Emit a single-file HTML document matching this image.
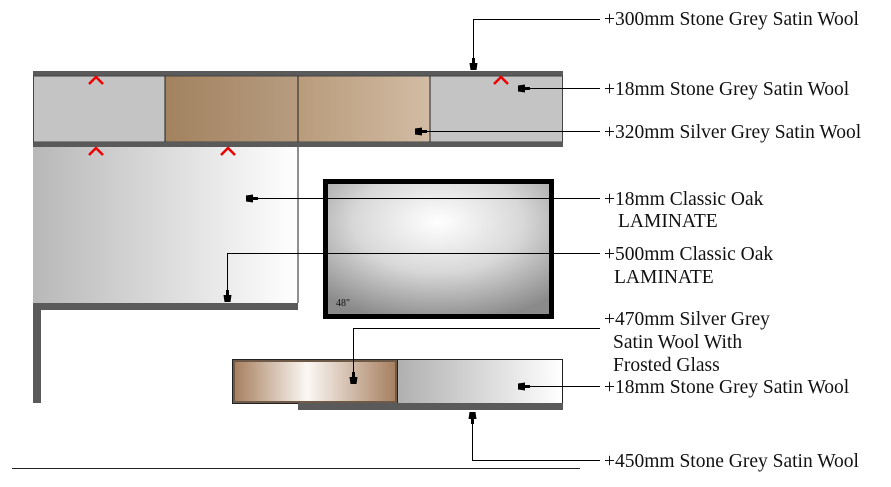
<!DOCTYPE html>
<html><head><meta charset="utf-8"><style>
html,body{margin:0;padding:0;background:#fff;}
svg{display:block}
text{font-family:"Liberation Serif",serif;font-size:19.5px;fill:#111}
</style></head><body>
<svg width="891" height="487" viewBox="0 0 891 487" xmlns="http://www.w3.org/2000/svg">
<defs>
<linearGradient id="b1" x1="0" x2="1"><stop offset="0" stop-color="#a2825f"/><stop offset="1" stop-color="#b79c80"/></linearGradient>
<linearGradient id="b2" x1="0" x2="1"><stop offset="0" stop-color="#b89b7b"/><stop offset="1" stop-color="#d2bca4"/></linearGradient>
<linearGradient id="g1" x1="0" x2="1"><stop offset="0" stop-color="#b8b8b8"/><stop offset="1" stop-color="#ffffff"/></linearGradient>
<linearGradient id="g2" x1="0" x2="1"><stop offset="0" stop-color="#b0b0b0"/><stop offset="1" stop-color="#ffffff"/></linearGradient>
<linearGradient id="dr" x1="0" x2="1"><stop offset="0" stop-color="#a88060"/><stop offset="0.45" stop-color="#fbf8f4"/><stop offset="1" stop-color="#a88060"/></linearGradient>
<radialGradient id="tv" cx="0.5" cy="0.3" r="0.75"><stop offset="0" stop-color="#ffffff"/><stop offset="0.5" stop-color="#d8d8d8"/><stop offset="1" stop-color="#8a8a8a"/></radialGradient>
<marker id="ar" viewBox="0 0 12 8" refX="12" refY="4" markerWidth="13" markerHeight="8" orient="auto" markerUnits="userSpaceOnUse"><path d="M0,2.5 L5,2.5 L5,0 L12,1 L12,7 L5,8 L5,5.5 L0,5.5 Z" fill="#000"/></marker>
</defs>
<rect x="33" y="71" width="530" height="5" fill="#5a5a5a"/>
<rect x="33" y="76" width="132" height="66" fill="#c4c4c4"/>
<rect x="165" y="76" width="133" height="66" fill="url(#b1)"/>
<rect x="298" y="76" width="132" height="66" fill="url(#b2)"/>
<rect x="430" y="76" width="133" height="66" fill="#c4c4c4"/>
<rect x="33.5" y="76" width="529" height="66" fill="none" stroke="#444" stroke-width="1"/>
<line x1="165" y1="76" x2="165" y2="142" stroke="#222"/>
<line x1="298" y1="76" x2="298" y2="142" stroke="#222"/>
<line x1="430" y1="76" x2="430" y2="142" stroke="#222"/>
<rect x="33" y="142" width="530" height="5" fill="#5a5a5a"/>
<rect x="33" y="147" width="265" height="156" fill="url(#g1)"/>
<line x1="298" y1="147" x2="298" y2="303" stroke="#222"/>
<rect x="33" y="303" width="265" height="7" fill="#5a5a5a"/>
<rect x="33" y="310" width="8" height="93" fill="#5a5a5a"/>
<g stroke="#e00" stroke-width="2.5" fill="none">
<path d="M89,84 L96,77 L103,84"/><path d="M494,84 L501,77 L508,84"/>
<path d="M89,155 L96,148 L103,155"/><path d="M221,155 L228,148 L235,155"/>
</g>
<rect x="325.5" y="181.5" width="226" height="135" fill="url(#tv)" stroke="#000" stroke-width="5"/>
<text x="336" y="306" style="font-size:10px;font-family:'Liberation Serif',serif">48"</text>
<rect x="232.5" y="359.5" width="330" height="44" fill="#fff" stroke="#222"/>
<rect x="398" y="360" width="164" height="43" fill="url(#g2)"/>
<rect x="232.5" y="359.5" width="165" height="44" fill="#6d5a48" stroke="#222"/>
<rect x="235" y="362" width="160" height="39" fill="url(#dr)"/>
<rect x="298" y="403" width="265" height="7" fill="#5a5a5a"/>
<line x1="12" y1="468.5" x2="580" y2="468.5" stroke="#222"/>
<g stroke="#000" stroke-width="1" fill="none">
<polyline points="600,19.5 473.5,19.5 473.5,70" marker-end="url(#ar)"/>
<line x1="600" y1="88.5" x2="518" y2="88.5" marker-end="url(#ar)"/>
<line x1="600" y1="131.5" x2="415" y2="131.5" marker-end="url(#ar)"/>
<line x1="600" y1="198.5" x2="246" y2="198.5" marker-end="url(#ar)"/>
<polyline points="600,253.5 227.5,253.5 227.5,302" marker-end="url(#ar)"/>
<polyline points="600,328.5 353.5,328.5 353.5,384" marker-end="url(#ar)"/>
<line x1="600" y1="386.5" x2="518" y2="386.5" marker-end="url(#ar)"/>
<polyline points="600,460.5 472.5,460.5 472.5,412" marker-end="url(#ar)"/>
</g>
<text x="604" y="25">+300mm Stone Grey Satin Wool</text>
<text x="604" y="95">+18mm Stone Grey Satin Wool</text>
<text x="604" y="138">+320mm Silver Grey Satin Wool</text>
<text x="604" y="205">+18mm Classic Oak</text>
<text x="618" y="227">LAMINATE</text>
<text x="604" y="260">+500mm Classic Oak</text>
<text x="614" y="283">LAMINATE</text>
<text x="604" y="325">+470mm Silver Grey</text>
<text x="613" y="348">Satin Wool With</text>
<text x="613" y="371">Frosted Glass</text>
<text x="604" y="393">+18mm Stone Grey Satin Wool</text>
<text x="604" y="467">+450mm Stone Grey Satin Wool</text>
</svg>
</body></html>
